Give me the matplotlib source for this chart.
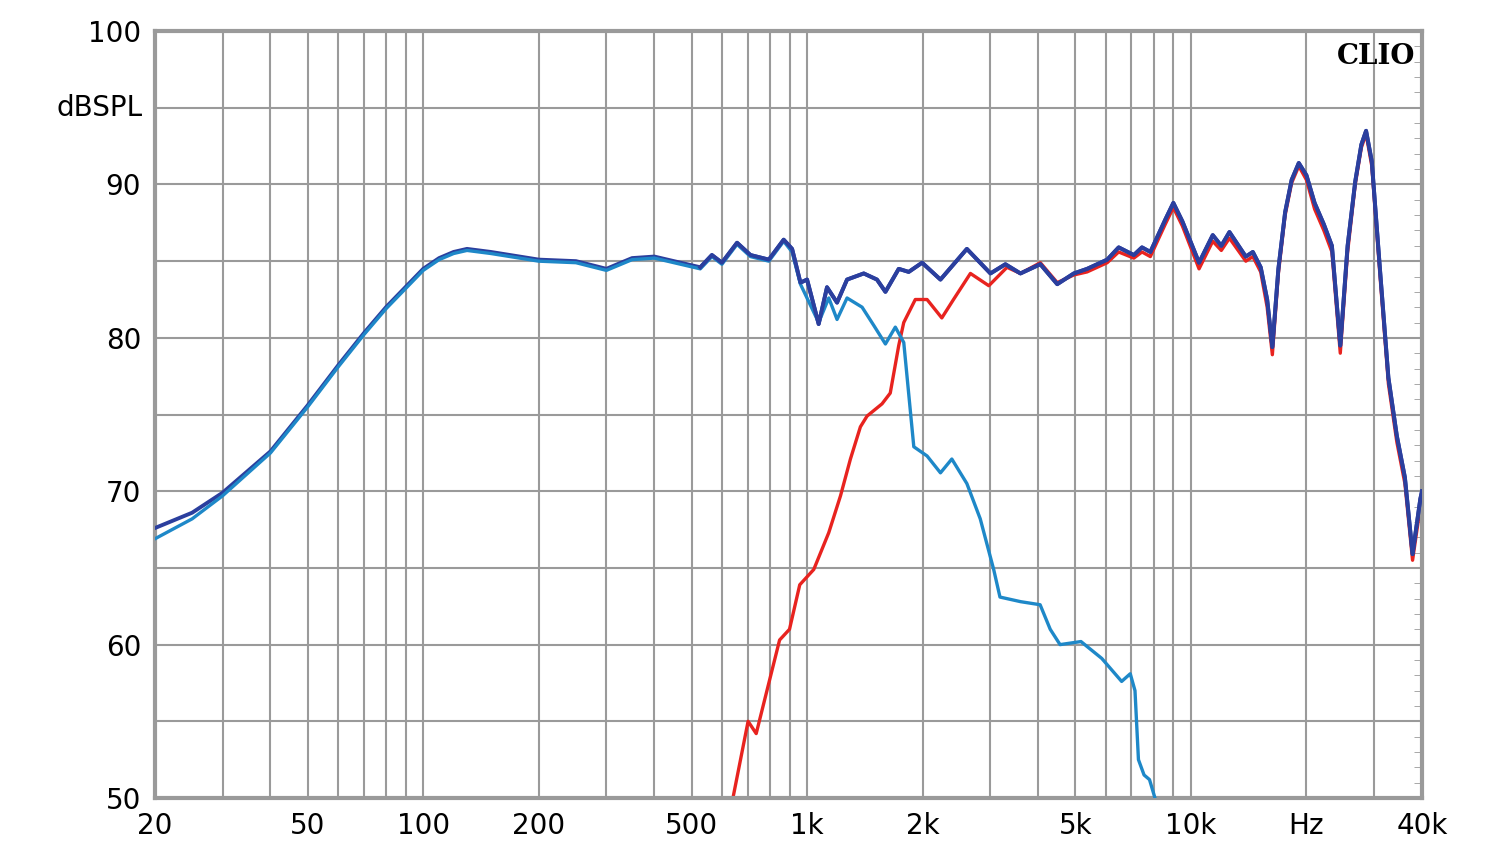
import matplotlib
matplotlib.use('Agg')
import matplotlib.pyplot as plt
import numpy as np
from matplotlib.ticker import FixedLocator, NullFormatter

# summed response (dark blue)
sum_freq = [20, 25, 30, 40, 50, 60, 70, 80, 100, 110, 120, 130, 150, 200, 250, 300, 350, 400,
            450, 527, 565, 600, 657, 712, 795, 869, 914, 961, 1000, 1072, 1127, 1197, 1271,
            1405, 1521, 1600, 1733, 1840, 1994, 2226, 2608, 3004, 3286, 3597, 4052, 4485,
            4953, 5365, 6052, 6483, 7100, 7456, 7840, 8571, 9000, 9500, 10500, 11400, 12000,
            12600, 13900, 14500, 15200, 15800, 16300, 16900, 17600, 18300, 19100, 20000,
            21000, 22200, 23300, 24500, 25600, 26800, 27800, 28600, 29600, 31100, 32700,
            34400, 36100, 37800, 39600, 40000]
sum_db = [67.6, 68.6, 69.9, 72.6, 75.6, 78.2, 80.3, 82.0, 84.5, 85.2, 85.6, 85.8, 85.6, 85.1,
          85.0, 84.5, 85.2, 85.3, 85.0, 84.6, 85.4, 84.9, 86.2, 85.4, 85.1, 86.4, 85.8, 83.6,
          83.8, 80.9, 83.3, 82.3, 83.8, 84.2, 83.8, 83.0, 84.5, 84.3, 84.9, 83.8, 85.8, 84.2,
          84.8, 84.2, 84.8, 83.5, 84.2, 84.5, 85.1, 85.9, 85.4, 85.9, 85.6, 87.7, 88.8, 87.6,
          84.9, 86.7, 86.0, 86.9, 85.3, 85.6, 84.6, 82.5, 79.4, 84.5, 88.2, 90.3, 91.4, 90.6,
          88.8, 87.4, 86.0, 79.5, 86.0, 90.2, 92.6, 93.5, 91.5, 84.4, 77.4, 73.6, 70.9, 65.9,
          69.5, 70.0]

# tweeter (red)
tw_freq = [641, 702, 737, 848, 900, 957, 1041, 1139, 1222, 1297, 1377, 1433, 1568, 1647, 1733,
           1786, 1914, 2054, 2244, 2407, 2664, 2975, 3318, 3597, 4052, 4485, 4953, 5365, 6052,
           6483, 7100, 7456, 7840, 8571, 9000, 9500, 10500, 11400, 12000, 12600, 13900, 14500,
           15200, 15800, 16300, 16900, 17600, 18300, 19100, 20000, 21000, 22200, 23300,
           24500, 25600, 26800, 27800, 28600, 29600, 31100, 32700, 34400, 36100, 37800,
           39600, 40000]
tw_db = [50.0, 55.0, 54.2, 60.3, 61.0, 63.9, 64.9, 67.3, 69.7, 72.1, 74.2, 74.9, 75.7, 76.4,
         79.5, 81.0, 82.5, 82.5, 81.3, 82.5, 84.2, 83.4, 84.6, 84.2, 84.9, 83.6, 84.1, 84.3,
         84.9, 85.6, 85.2, 85.6, 85.3, 87.4, 88.5, 87.3, 84.5, 86.3, 85.7, 86.5, 85.0, 85.3,
         84.3, 82.0, 78.9, 84.2, 88.0, 90.1, 91.2, 90.3, 88.4, 87.0, 85.6, 79.0, 85.6, 90.0,
         92.4, 93.3, 91.2, 84.0, 77.0, 73.2, 70.5, 65.5, 69.0, 69.5]

# woofer (light blue)
wf_freq = [20, 25, 30, 40, 50, 60, 70, 80, 100, 110, 120, 130, 150, 200, 250, 300, 350, 400,
           450, 527, 565, 600, 657, 712, 795, 869, 914, 961, 1072, 1139, 1197, 1271, 1391,
           1493, 1600, 1698, 1786, 1897, 2054, 2226, 2383, 2608, 2826, 3063, 3181, 3600,
           4047, 4300, 4561, 5171, 5858, 6600, 6950, 7150, 7300, 7550, 7800, 8060]
wf_db = [66.9, 68.2, 69.7, 72.5, 75.5, 78.1, 80.2, 81.9, 84.4, 85.1, 85.5, 85.7, 85.5, 85.0,
         84.9, 84.4, 85.1, 85.2, 84.9, 84.5, 85.3, 84.8, 86.1, 85.3, 85.0, 86.3, 85.6, 83.5,
         81.0, 82.6, 81.2, 82.6, 82.0, 80.8, 79.6, 80.7, 79.7, 72.9, 72.3, 71.2, 72.1, 70.5,
         68.2, 64.9, 63.1, 62.8, 62.6, 61.0, 60.0, 60.2, 59.1, 57.6, 58.1, 57.0, 52.5, 51.5,
         51.2, 50.0]

x_ticks = [20, 50, 100, 200, 500, 1000, 2000, 5000, 10000, 20000, 40000]
x_labels = ['20', '50', '100', '200', '500', '1k', '2k', '5k', '10k', 'Hz', '40k']
y_ticks = [50, 60, 70, 80, 90, 100]

fig = plt.figure(figsize=(15, 8.64), dpi=100)
ax = fig.add_axes([0.1033, 0.0764, 0.8447, 0.8876])
ax.set_xscale('log')
ax.set_xlim(20, 40000)
ax.set_ylim(50, 100)

grid_x = [m * 10 ** e for e in range(1, 5) for m in range(1, 10)]
grid_x = [g for g in grid_x if 20 < g < 40000]
for g in grid_x:
    ax.axvline(g, color='#9a9a9a', lw=1.5, zorder=1)
for g in range(55, 100, 5):
    ax.axhline(g, color='#9a9a9a', lw=1.5, zorder=1)

ax.plot(sum_freq, sum_db, color='#2b3f9e', lw=2.8, zorder=3)
ax.plot(tw_freq, tw_db, color='#e8231f', lw=2.4, zorder=2)
ax.plot(wf_freq, wf_db, color='#1e88c8', lw=2.4, zorder=4)
# keep dark blue on top above 500 Hz
mask = np.array(sum_freq) >= 500
ax.plot(np.array(sum_freq)[mask], np.array(sum_db)[mask], color='#2b3f9e', lw=2.8, zorder=5)

ax.xaxis.set_major_locator(FixedLocator(x_ticks))
ax.xaxis.set_minor_formatter(NullFormatter())
ax.xaxis.set_minor_locator(FixedLocator([]))
ax.set_xticklabels(x_labels)
ax.set_yticks(y_ticks)
ax.yaxis.set_minor_locator(FixedLocator(list(range(51, 100))))
ax.tick_params(axis='both', which='major', length=0, labelsize=20, pad=10)
ax.tick_params(axis='y', which='minor', length=6, direction='in', right=True, left=False,
               color='#9a9a9a')
for s in ax.spines.values():
    s.set_color('#9a9a9a')
    s.set_linewidth(3)

ax.text(-0.01, 0.9, 'dBSPL', transform=ax.transAxes, ha='right', va='center', fontsize=20)
ax.text(0.995, 0.985, 'CLIO', transform=ax.transAxes, ha='right', va='top', fontsize=20,
        family='DejaVu Serif', fontweight='bold', zorder=6)

fig.savefig('out.png', dpi=100)
